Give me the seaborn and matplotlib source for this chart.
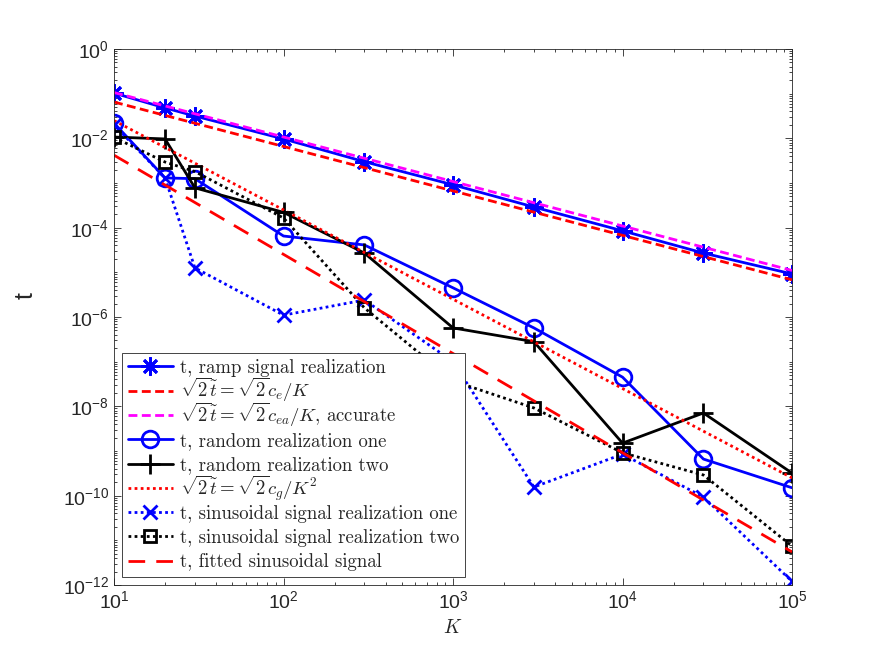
import matplotlib
matplotlib.use('Agg')
import matplotlib.pyplot as plt
from matplotlib.ticker import FixedLocator, FixedFormatter, LogLocator, NullFormatter
from matplotlib.transforms import Bbox
import numpy as np
import seaborn as sns

# data
K = [10, 20, 30, 100, 300, 1000, 3000, 10000, 30000, 100000]
K_ends = [10, 100000]

ramp = [0.103, 0.048, 0.0316, 0.0097, 0.0030, 9.1e-4, 2.9e-4, 8.5e-5, 2.7e-5, 9.2e-6]
ce_line = [0.065, 6.8e-6]
cea_line = [0.106, 1.1e-5]
rand_one = [0.022, 1.3e-3, 1.25e-3, 6.5e-5, 4.1e-5, 4.5e-6, 5.7e-7, 4.5e-8, 6.6e-10, 1.5e-10]
rand_two = [0.0107, 0.0097, 7.8e-4, 2.2e-4, 2.7e-5, 5.7e-7, 2.8e-7, 1.5e-9, 7.1e-9, 3.2e-10]
cg_line = [0.025, 2.5e-10]
sin_one = [0.02, 1.3e-3, 1.26e-5, 1.1e-6, 2.4e-6, 1.0e-7, 1.56e-10, 8.5e-10, 9.3e-11, 1.2e-12]
sin_two = [0.0105, 2.95e-3, 1.8e-3, 1.65e-4, 1.6e-6, 3.7e-8, 9.2e-9, 9.1e-10, 2.9e-10, 7.4e-12]
fit_line = [4.2e-3, 5.5e-12]

labels = [
    't, ramp signal realization',
    r'$\sqrt{2}\tilde{t}=\sqrt{2}c_e/K$',
    r'$\sqrt{2}\tilde{t}=\sqrt{2}c_{ea}/K$, accurate',
    't, random realization one',
    't, random realization two',
    r'$\sqrt{2}\tilde{t}=\sqrt{2}c_g/K^2$',
    't, sinusoidal signal realization one',
    't, sinusoidal signal realization two',
    't, fitted sinusoidal signal',
]

xtick_exp = [1, 2, 3, 4, 5]
ytick_exp = [0, -2, -4, -6, -8, -10, -12]

sns.set_style('ticks')
plt.rcParams['font.family'] = ['Liberation Sans', 'DejaVu Sans']
plt.rcParams['mathtext.fontset'] = 'cm'

fig = plt.figure(figsize=(8.75, 6.57), dpi=100)
ax = fig.add_axes([0.1303, 0.1096, 0.7749, 0.8158])

blue, red, mag = (0, 0, 1), (1, 0, 0), (1, 0, 1)
series = [
    (K, ramp, blue, '-', (8, 2, 0), 13),
    (K_ends, ce_line, red, (0, (3.2, 1.6)), None, 0),
    (K_ends, cea_line, mag, (0, (3.2, 1.6)), None, 0),
    (K, rand_one, blue, '-', 'o', 12),
    (K, rand_two, 'k', '-', '+', 15),
    (K_ends, cg_line, red, (0, (1, 1.2)), None, 0),
    (K, sin_one, blue, (0, (1, 1.2)), 'x', 10),
    (K, sin_two, 'k', (0, (1, 1.2)), 's', 9),
    (K_ends, fit_line, red, (0, (6, 4)), None, 0),
]

for (xs, ys, col, ls, mk, ms), lab in zip(series, labels):
    sns.lineplot(x=xs, y=ys, ax=ax, color=col, linestyle=ls, linewidth=2,
                 marker=mk, markersize=ms, markerfacecolor='none',
                 markeredgecolor=col, markeredgewidth=2, label=lab,
                 errorbar=None, legend=False)

ax.set_xscale('log')
ax.set_yscale('log')
ax.set_xlim(10, 1e5)
ax.set_ylim(1e-12, 1)

ax.xaxis.set_major_locator(FixedLocator([10.0 ** e for e in xtick_exp]))
ax.xaxis.set_major_formatter(FixedFormatter([r'$\mathregular{10^{%d}}$' % e for e in xtick_exp]))
ax.yaxis.set_major_locator(FixedLocator([10.0 ** e for e in ytick_exp]))
ax.yaxis.set_major_formatter(FixedFormatter([r'$\mathregular{10^{%d}}$' % e for e in ytick_exp]))
for axis in (ax.xaxis, ax.yaxis):
    axis.set_minor_locator(LogLocator(base=10, subs=np.arange(1, 10), numticks=100))
    axis.set_minor_formatter(NullFormatter())

ax.tick_params(which='both', direction='in', top=True, right=True,
               color='0.15', labelcolor='0.15', labelsize=14, width=0.6)
ax.tick_params(which='major', length=5)
ax.tick_params(which='minor', length=2.5)
for sp in ax.spines.values():
    sp.set_color('0.15')
    sp.set_linewidth(0.6)

ax.set_xlabel('$K$', fontsize=14, color='0.15', labelpad=5)
ax.set_ylabel('t', fontsize=18, color='0.15')
ax.yaxis.set_label_coords(-0.112, 0.54)

leg = ax.legend(loc='lower left', prop={'family': 'cmr10', 'size': 13.5},
                handlelength=2.4, handletextpad=0.37, labelspacing=0.34,
                borderpad=0.3, borderaxespad=0.43, frameon=True, fancybox=False,
                edgecolor='0.15', framealpha=1)
leg.get_frame().set_linewidth(0.6)

# same row height for every legend entry (math rows would be taller)
fp = leg.texts[0].get_fontproperties()


def fixed_bbox(orig):
    def get_bbox(renderer):
        b = orig(renderer)
        _, h, d = renderer.get_text_width_height_descent('lp', fp, ismath=False)
        return Bbox.from_bounds(b.x0, -d, b.width, h)
    return get_bbox


for col in leg._legend_handle_box.get_children():
    for row in col.get_children():
        ta = row.get_children()[1]
        ta.get_bbox = fixed_bbox(ta.get_bbox)

fig.savefig('out.png', dpi=100)
